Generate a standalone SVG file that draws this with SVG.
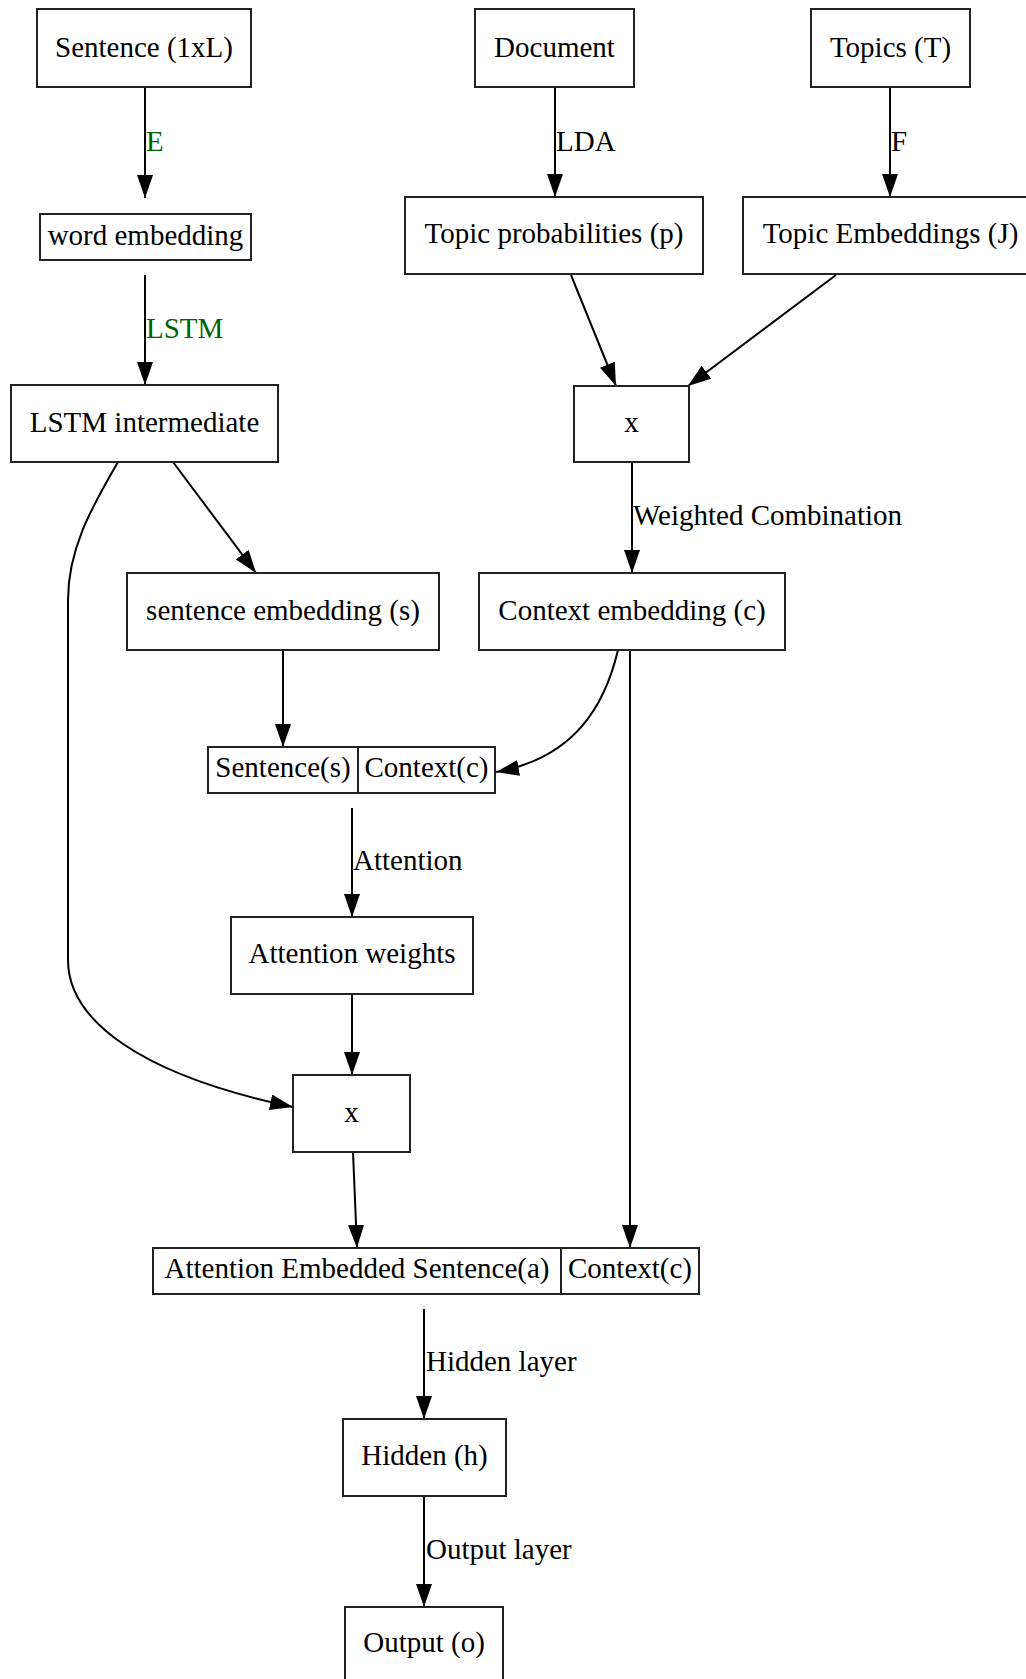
<svg xmlns="http://www.w3.org/2000/svg" width="1026" height="1679" viewBox="0 0 1026 1679">
<defs>
<style>
rect.n{fill:#fff;stroke:#222;stroke-width:2}
line.d{stroke:#222;stroke-width:2}
text{font-family:"Liberation Serif","Times New Roman",serif;font-size:29px;fill:#000}
text.c{text-anchor:middle}
text.g{fill:#006400}
path.e,line.e{fill:none;stroke:#000;stroke-width:2}
</style>
<marker id="arr" markerWidth="24" markerHeight="16" refX="23" refY="8" orient="auto" markerUnits="userSpaceOnUse">
<path d="M0,0 L23,8 L0,16 z" fill="#000"/>
</marker>
</defs>
<rect width="1026" height="1679" fill="#fff"/>

<g id="connectors">
<path class="e" d="M145,87 L145,198" marker-end="url(#arr)"/>
<text class="g" x="146" y="151">E</text>
<path class="e" d="M145,275 L145,385" marker-end="url(#arr)"/>
<text class="g" x="146" y="338">LSTM</text>
<path class="e" d="M555,87 L555,197" marker-end="url(#arr)"/>
<text x="556" y="151">LDA</text>
<path class="e" d="M890,87 L890,197" marker-end="url(#arr)"/>
<text x="891" y="151">F</text>
<path class="e" d="M571,275 L616,386" marker-end="url(#arr)"/>
<path class="e" d="M836,275 L688,386" marker-end="url(#arr)"/>
<path class="e" d="M173,462 L256,573" marker-end="url(#arr)"/>
<path class="e" d="M118,462 C90,510 68,550 68,600 L68,960 C68,1020 140,1075 293,1107" marker-end="url(#arr)"/>
<path class="e" d="M632,462 L632,573" marker-end="url(#arr)"/>
<text x="633" y="525">Weighted Combination</text>
<path class="e" d="M283,650 L283,747" marker-end="url(#arr)"/>
<path class="e" d="M618,650 C605,705 575,758 496,772" marker-end="url(#arr)"/>
<path class="e" d="M630,650 L630,1248" marker-end="url(#arr)"/>
<path class="e" d="M352,808 L352,917" marker-end="url(#arr)"/>
<text x="353" y="870">Attention</text>
<path class="e" d="M352,994 L352,1075" marker-end="url(#arr)"/>
<path class="e" d="M353,1152 L357,1248" marker-end="url(#arr)"/>
<path class="e" d="M424,1309 L424,1419" marker-end="url(#arr)"/>
<text x="426" y="1371">Hidden layer</text>
<path class="e" d="M424,1496 L424,1607" marker-end="url(#arr)"/>
<text x="426" y="1559">Output layer</text>
</g>

<g id="sentence">
<rect class="n" x="37" y="9" width="214" height="78"/>
<text class="c" x="144" y="57">Sentence (1xL)</text>
</g>
<g id="document">
<rect class="n" x="475" y="9" width="159" height="78"/>
<text class="c" x="554.5" y="57">Document</text>
</g>
<g id="topics">
<rect class="n" x="811" y="9" width="159" height="78"/>
<text class="c" x="890.5" y="57">Topics (T)</text>
</g>
<g id="word_embedding">
<rect class="n" x="40" y="214" width="211" height="46"/>
<text class="c" x="145.5" y="245">word embedding</text>
</g>
<g id="topic_prob">
<rect class="n" x="405" y="197" width="298" height="77"/>
<text class="c" x="554" y="243">Topic probabilities (p)</text>
</g>
<g id="topic_emb">
<rect class="n" x="743" y="197" width="295" height="77"/>
<text class="c" x="890.5" y="243">Topic Embeddings (J)</text>
</g>
<g id="lstm_intermediate">
<rect class="n" x="11" y="385" width="267" height="77"/>
<text class="c" x="144.5" y="432">LSTM intermediate</text>
</g>
<g id="mult_top">
<rect class="n" x="574" y="386" width="115" height="76"/>
<text class="c" x="631.5" y="432">x</text>
</g>
<g id="sentence_embedding">
<rect class="n" x="127" y="573" width="312" height="77"/>
<text class="c" x="283" y="620">sentence embedding (s)</text>
</g>
<g id="context_embedding">
<rect class="n" x="479" y="573" width="306" height="77"/>
<text class="c" x="632" y="620">Context embedding (c)</text>
</g>
<g id="concat1">
<rect class="n" x="208" y="747" width="287" height="46"/>
<line class="d" x1="358" y1="747" x2="358" y2="793"/>
<text class="c" x="283" y="777">Sentence(s)</text>
<text class="c" x="426.5" y="777">Context(c)</text>
</g>
<g id="attention_weights">
<rect class="n" x="231" y="917" width="242" height="77"/>
<text class="c" x="352" y="963">Attention weights</text>
</g>
<g id="mult_bottom">
<rect class="n" x="293" y="1075" width="117" height="77"/>
<text class="c" x="351.5" y="1122">x</text>
</g>
<g id="concat2">
<rect class="n" x="153" y="1248" width="546" height="46"/>
<line class="d" x1="561" y1="1248" x2="561" y2="1294"/>
<text class="c" x="357" y="1278">Attention Embedded Sentence(a)</text>
<text class="c" x="630" y="1278">Context(c)</text>
</g>
<g id="hidden">
<rect class="n" x="343" y="1419" width="163" height="77"/>
<text class="c" x="424.5" y="1465">Hidden (h)</text>
</g>
<g id="output">
<rect class="n" x="345" y="1607" width="158" height="78"/>
<text class="c" x="424" y="1652">Output (o)</text>
</g>
</svg>
